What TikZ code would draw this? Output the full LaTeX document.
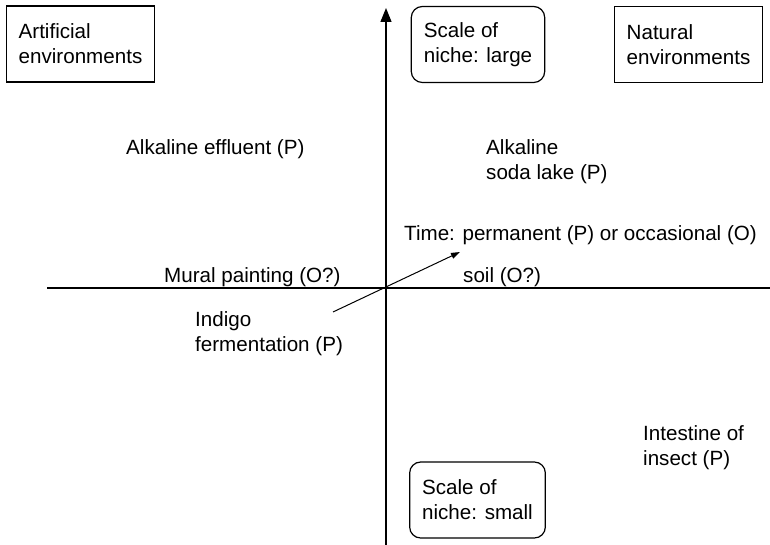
\documentclass[tikz,border=0pt]{standalone}
\usepackage{fontspec}
\setmainfont{Liberation Sans}
\usetikzlibrary{arrows.meta}
\begin{document}
\begin{tikzpicture}[x=1pt,y=-1pt,
  every node/.style={font=\fontsize{20.6}{25}\selectfont},
  lbl/.style={anchor=north west, inner sep=0pt, align=left},
  sqbox/.style={draw, line width=1.2pt, align=left, inner xsep=12.5pt, minimum height=76pt},
  rdbox/.style={sqbox, rounded corners=11pt},
  axis/.style={line width=1.3pt}]
\useasboundingbox (0,0) rectangle (770,545);
% boxes
\node[sqbox] (art) at (80.5,44) {Artificial\\environments};
\node[rdbox] (large) at (478,44.5) {Scale of\\niche: large};
\node[sqbox] (nat) at (688.5,44.5) {Natural\\environments};
\node[rdbox] (small) at (477.5,500) {Scale of\\niche: small};
% axes
\coordinate (vbot) at (386,545);
\coordinate (vtop) at (386,8);
\coordinate (hl) at (47,288);
\coordinate (hr) at (770,288);
\draw[axis, -{Triangle[length=14pt,width=11pt]}] (vbot) -- (vtop);
\draw[axis] (hl) -- (hr);
% labels
\node[lbl] (eff) at (126,139) {Alkaline effluent (P)};
\node[lbl] (soda) at (486,139) {Alkaline\\soda lake (P)};
\node[lbl] (time) at (404,225) {Time: permanent (P) or occasional (O)};
\node[lbl] (mural) at (164,267) {Mural painting (O?)};
\node[lbl] (soil) at (463,267) {soil (O?)};
\node[lbl] (indigo) at (195,311) {Indigo\\fermentation (P)};
\node[lbl] (insect) at (643,425) {Intestine of\\insect (P)};
% time arrow
\coordinate (ta) at (333,312);
\coordinate (tb) at (460,252);
\draw[line width=1pt, -{Triangle[length=9pt,width=6pt]}] (ta) -- (tb);
\end{tikzpicture}
\end{document}
